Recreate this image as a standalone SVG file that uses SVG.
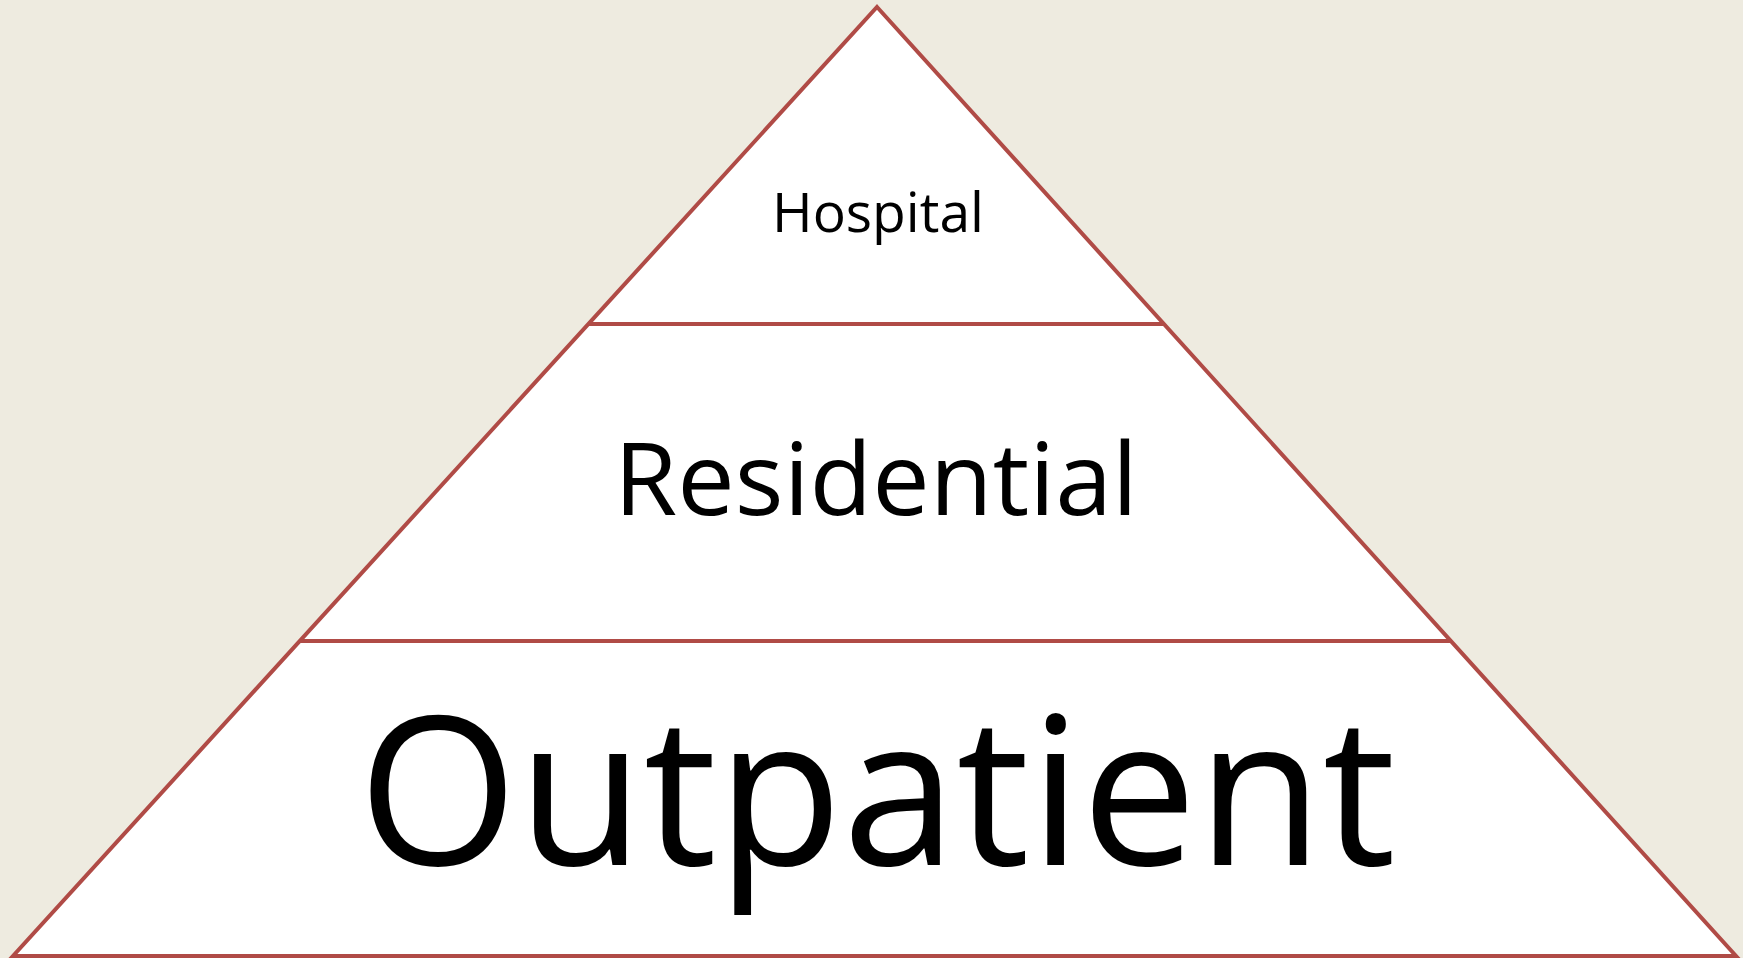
<svg xmlns="http://www.w3.org/2000/svg" width="1743" height="958" viewBox="0 0 1743 958">
<style>
.edge{stroke:#B04B46;stroke-width:4;stroke-linejoin:miter}
.lbl{font-family:"Open Sans","Noto Sans","Liberation Sans",sans-serif;fill:#000;text-anchor:middle}
</style>
<rect x="0" y="0" width="1743" height="958" fill="#EEEBE0"/>
<g id="pyramid">
<polygon points="877,7 1736,956 13,956" class="edge" style="fill:#FFFFFF"/>
</g>
<g id="connectors">
<line class="edge" x1="588" y1="324" x2="1164" y2="324"/>
<line class="edge" x1="300" y1="641" x2="1452" y2="641"/>
</g>
<g id="hospital">
<text class="lbl" x="878" y="232" font-size="55" textLength="212" lengthAdjust="spacingAndGlyphs">Hospital</text>
</g>
<g id="residential">
<text class="lbl" x="876" y="515" font-size="101" textLength="524" lengthAdjust="spacingAndGlyphs">Residential</text>
</g>
<g id="outpatient">
<text class="lbl" x="877" y="865" font-size="207" textLength="1038" lengthAdjust="spacingAndGlyphs">Outpatient</text>
</g>
</svg>
